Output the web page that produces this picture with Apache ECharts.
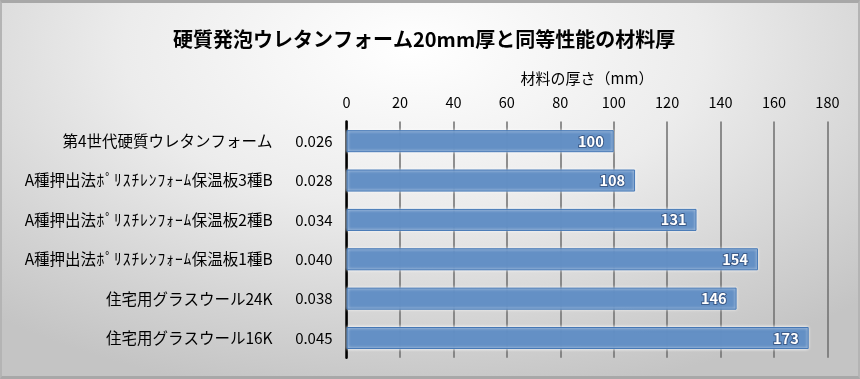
<!DOCTYPE html>
<html>
<head>
<meta charset="utf-8">
<script src="https://cdn.jsdelivr.net/npm/echarts@6/dist/echarts.min.js"></script>
<style>
html,body{margin:0;padding:0;}
#wrap{position:absolute;left:0;top:0;width:860px;height:379px;box-sizing:border-box;
  border-top:3px solid #a8a8a8;border-left:2px solid #b4b4b4;border-right:2px solid #b4b4b4;border-bottom:3px solid #a8a8a8;
  background:radial-gradient(ellipse 75% 95% at 48% 12%, #ffffff 0%, #ececec 45%, #d2d2d2 80%, #c4c4c4 100%);}
#chart{position:absolute;left:-2px;top:-3px;width:860px;height:379px;}
</style>
</head>
<body>
<div id="wrap"><div id="chart"></div></div>
<script>
const titleText = '硬質発泡ウレタンフォーム20mm厚と同等性能の材料厚';
const axisName = '材料の厚さ（mm）';
const categories = [
  '第4世代硬質ウレタンフォーム',
  'A種押出法ﾎﾟﾘｽﾁﾚﾝﾌｫｰﾑ保温板3種B',
  'A種押出法ﾎﾟﾘｽﾁﾚﾝﾌｫｰﾑ保温板2種B',
  'A種押出法ﾎﾟﾘｽﾁﾚﾝﾌｫｰﾑ保温板1種B',
  '住宅用グラスウール24K',
  '住宅用グラスウール16K'
];
const conductivity = ['0.026', '0.028', '0.034', '0.040', '0.038', '0.045'];
const thickness = [100, 108, 131, 154, 146, 173];
const xMin = 0, xMax = 180, xStep = 20;

const chart = echarts.init(document.getElementById('chart'), null, {renderer: 'canvas'});
const font = '"Noto Sans CJK JP", "Noto Sans", sans-serif';

function labelRich(name) {
  let out = '', buf = '';
  for (const ch of name) {
    const c = ch.codePointAt(0);
    if (c >= 0xFF61 && c <= 0xFF9F) {
      if (buf) { out += '{a|' + buf + '}'; buf = ''; }
      out += '{k|' + ch + '}';
    } else buf += ch;
  }
  if (buf) out += '{a|' + buf + '}';
  return out;
}

chart.setOption({
  backgroundColor: 'transparent',
  textStyle: {fontFamily: font},
  title: {
    text: titleText,
    left: 168,
    top: 24,
    textStyle: {fontFamily: font, fontSize: 20, fontWeight: 'bold', color: '#000'}
  },
  grid: {left: 346.6, right: 32.6, top: 121.5, bottom: 21.3},
  xAxis: {
    type: 'value',
    position: 'top',
    min: xMin, max: xMax, interval: xStep,
    name: axisName,
    nameLocation: 'middle',
    nameGap: 36,
    nameTextStyle: {fontFamily: font, fontSize: 15, color: '#000'},
    axisLine: {show: false},
    axisTick: {show: false},
    axisLabel: {fontFamily: font, fontSize: 14.5, color: '#000', margin: 12},
    splitLine: {show: true, lineStyle: {color: '#6e6e6e', width: 1.5}}
  },
  yAxis: {
    type: 'category',
    inverse: true,
    data: categories,
    axisLine: {show: true, lineStyle: {color: '#000', width: 2.5}},
    axisTick: {show: false},
    axisLabel: {
      margin: 14,
      formatter: function (v, i) { return labelRich(v) + '{b|' + conductivity[i] + '}'; },
      rich: {
        a: {fontFamily: font, fontSize: 15.5, color: '#000'},
        k: {fontFamily: font, fontSize: 15.5, color: '#000', width: 8.7, align: 'center'},
        b: {fontFamily: font, fontSize: 15, color: '#000', width: 60, align: 'right'}
      }
    }
  },
  series: [{
    type: 'bar',
    data: thickness,
    barCategoryGap: '44%',
    itemStyle: {color: 'rgba(79,129,189,0.88)', borderColor: '#4477b5', borderWidth: 1,
      shadowColor: 'rgba(255,255,255,1)', shadowBlur: 3},
    label: {
      show: true, position: 'insideRight', distance: 10,
      color: '#fff', fontWeight: 'bold', fontSize: 14.5, fontFamily: font,
      textBorderColor: 'rgba(30,50,90,0.55)', textBorderWidth: 2
    }
  }]
});
</script>
</body>
</html>
